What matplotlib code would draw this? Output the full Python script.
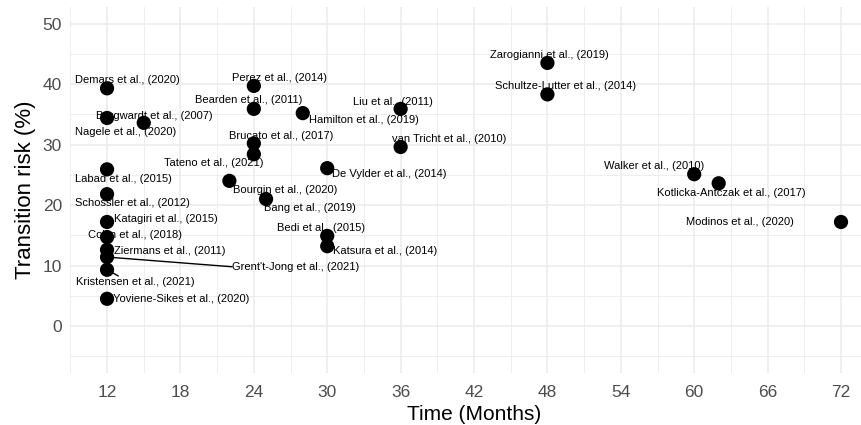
#! /usr/bin/env python3
# -*- coding: utf-8 -*-
import matplotlib
matplotlib.use('Agg')
import matplotlib.pyplot as plt

plt.rcParams['font.family'] = ['Liberation Sans', 'DejaVu Sans']

# study labels, follow-up time (months) and transition risk (%)
studies = ["Demars et al., (2020)", "Nagele et al., (2020)", "Borgwardt et al., (2007)",
           "Perez et al., (2014)", "Bearden et al., (2011)", "Hamilton et al., (2019)",
           "Brucato et al., (2017)", "Tateno et al., (2021)", "Bourgin et al., (2020)",
           "Bang et al., (2019)", "Labad et al., (2015)", "Schossler et al., (2012)",
           "Katagiri et al., (2015)", "Collin et al., (2018)", "Ziermans et al., (2011)",
           "Grent't-Jong et al., (2021)", "Kristensen et al., (2021)", "Yoviene-Sikes et al., (2020)",
           "De Vylder et al., (2014)", "Bedi et al., (2015)", "Katsura et al., (2014)",
           "Liu et al., (2011)", "van Tricht et al., (2010)", "Zarogianni et al., (2019)",
           "Schultze-Lutter et al., (2014)", "Walker et al., (2010)",
           "Kotlicka-Antczak et al., (2017)", "Modinos et al., (2020)"]
months = [12, 12, 15, 24, 24, 28, 24, 24, 22, 25, 12, 12, 12, 12, 12, 12, 12, 12,
          30, 30, 30, 36, 36, 48, 48, 60, 62, 72]
risk = [39.3, 34.4, 33.6, 39.7, 35.9, 35.2, 30.2, 28.4, 24.0, 21.0, 25.9, 21.8,
        17.2, 14.7, 12.6, 11.4, 9.3, 4.5, 26.1, 14.9, 13.2, 35.9, 29.6, 43.5,
        38.3, 25.1, 23.6, 17.2]

x_ticks = [12, 18, 24, 30, 36, 42, 48, 54, 60, 66, 72]
y_ticks = [0, 10, 20, 30, 40, 50]

# repelled label centres (layout only)
label_pos = [(13.7, 40.7), (13.55, 32.1), (15.9, 34.7), (26.1, 41.0), (23.6, 37.4),
             (33.0, 34.05), (26.2, 31.4), (20.7, 26.9), (26.55, 22.5), (28.6, 19.5),
             (13.3, 24.3), (14.1, 20.3), (16.8, 17.7), (14.3, 15.0), (17.15, 12.4),
             (27.45, 9.75), (14.3, 7.3), (18.1, 4.5), (35.1, 25.1), (29.5, 16.2),
             (34.7, 12.4), (35.4, 37.0), (40.0, 30.9), (48.2, 44.8), (49.5, 39.7),
             (56.7, 26.45), (63.0, 22.0), (63.75, 17.2)]
segments = {"Grent't-Jong et al., (2021)": (22.2, 9.8),
            "Kristensen et al., (2021)": (12.9, 8.3)}


def main():
    fig = plt.figure(figsize=(8.61, 4.25), dpi=100)
    ax = fig.add_axes([0.0817, 0.1226, 0.9377, 0.861])
    ax.set_xlim(9, 75)
    ax.set_ylim(-7.75, 52.75)

    # theme_minimal like grid
    for x in range(9, 76, 3):
        ax.axvline(x, color='#ebebeb', lw=1.1 if x in x_ticks else 0.6, zorder=0)
    for y in range(-5, 51, 5):
        ax.axhline(y, color='#ebebeb', lw=1.1 if y in y_ticks else 0.6, zorder=0)
    for s in ax.spines.values():
        s.set_visible(False)

    for name, (lx, ly) in zip(studies, label_pos):
        i = studies.index(name)
        if name in segments:
            ex, ey = segments[name]
            ax.plot([months[i], ex], [risk[i], ey], color='black', lw=1.0, zorder=2)
        ax.text(lx, ly, name, fontsize=8, ha='center', va='center', color='black', zorder=4)

    ax.scatter(months, risk, s=105, color='black', edgecolors='none', zorder=3)

    ax.set_xticks(x_ticks)
    ax.set_yticks(y_ticks)
    ax.tick_params(axis='x', length=0, labelsize=12.5, labelcolor='#4d4d4d', pad=9)
    ax.tick_params(axis='y', length=0, labelsize=12.5, labelcolor='#4d4d4d', pad=6)
    ax.set_xlabel('Time (Months)', fontsize=15, labelpad=3)
    ax.set_ylabel('Transition risk (%)', fontsize=16, labelpad=5)

    fig.savefig('out.png', dpi=100)
    return


if __name__ == '__main__':
    main()
